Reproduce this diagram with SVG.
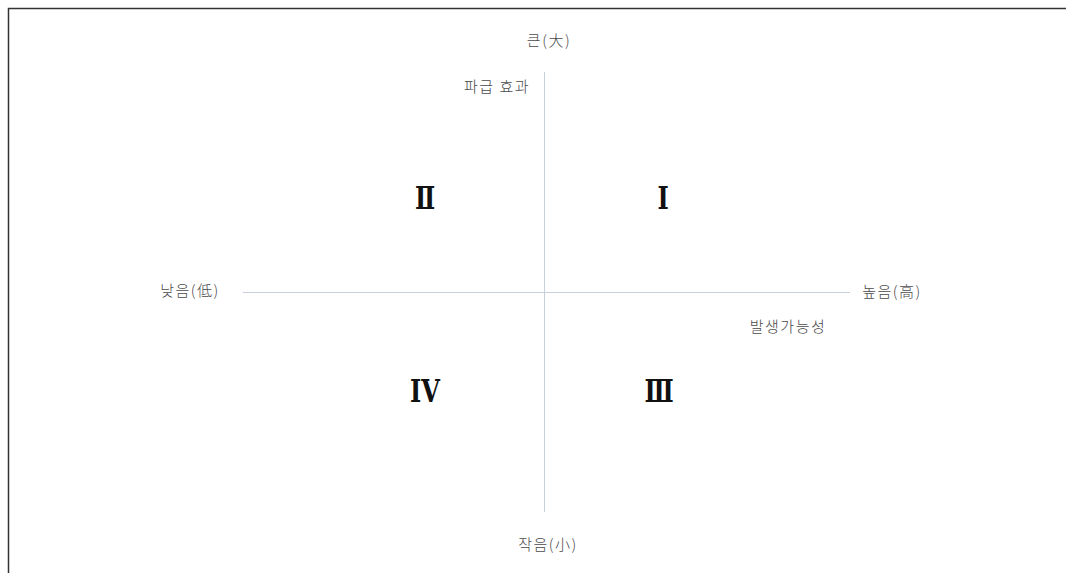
<svg xmlns="http://www.w3.org/2000/svg" width="1066" height="573" viewBox="0 0 1066 573">
<style>
.lbl{font-family:"Noto Sans CJK KR","Noto Sans",sans-serif;font-size:15px;letter-spacing:1.5px;fill:#4a4a4a;font-weight:300}
.num{font-family:"DejaVu Serif","Liberation Serif",serif;font-size:24px;font-weight:bold;fill:#111;text-anchor:middle}
.ax{stroke:#c8d0dc;stroke-width:1}
</style>
<rect width="1066" height="573" fill="#fff"/>
<path d="M8.5 573 V8.5 H1066" fill="none" stroke="#333" stroke-width="1.5"/>
<g id="connectors">
<line class="ax" x1="544.5" y1="72" x2="544.5" y2="512"/>
<line class="ax" x1="243" y1="292.5" x2="850" y2="292.5"/>
</g>
<g id="top"><text class="lbl" x="549" y="46" text-anchor="middle">큰(大)</text></g>
<g id="yname"><text class="lbl" x="530" y="92" text-anchor="end">파급 효과</text></g>
<g id="low"><text class="lbl" x="190" y="296" text-anchor="middle">낮음(低)</text></g>
<g id="high"><text class="lbl" x="892" y="297" text-anchor="middle">높음(高)</text></g>
<g id="xname"><text class="lbl" x="788" y="332" text-anchor="middle">발생가능성</text></g>
<g id="bottom"><text class="lbl" x="548" y="550" text-anchor="middle">작음(小)</text></g>
<g id="q2"><text class="num" transform="translate(425,209) scale(1,1.3)">Ⅱ</text></g>
<g id="q1"><text class="num" transform="translate(663,209) scale(1,1.3)">Ⅰ</text></g>
<g id="q4"><text class="num" transform="translate(425,402) scale(1,1.3)">IV</text></g>
<g id="q3"><text class="num" transform="translate(659,402) scale(1,1.3)">Ⅲ</text></g>
</svg>
